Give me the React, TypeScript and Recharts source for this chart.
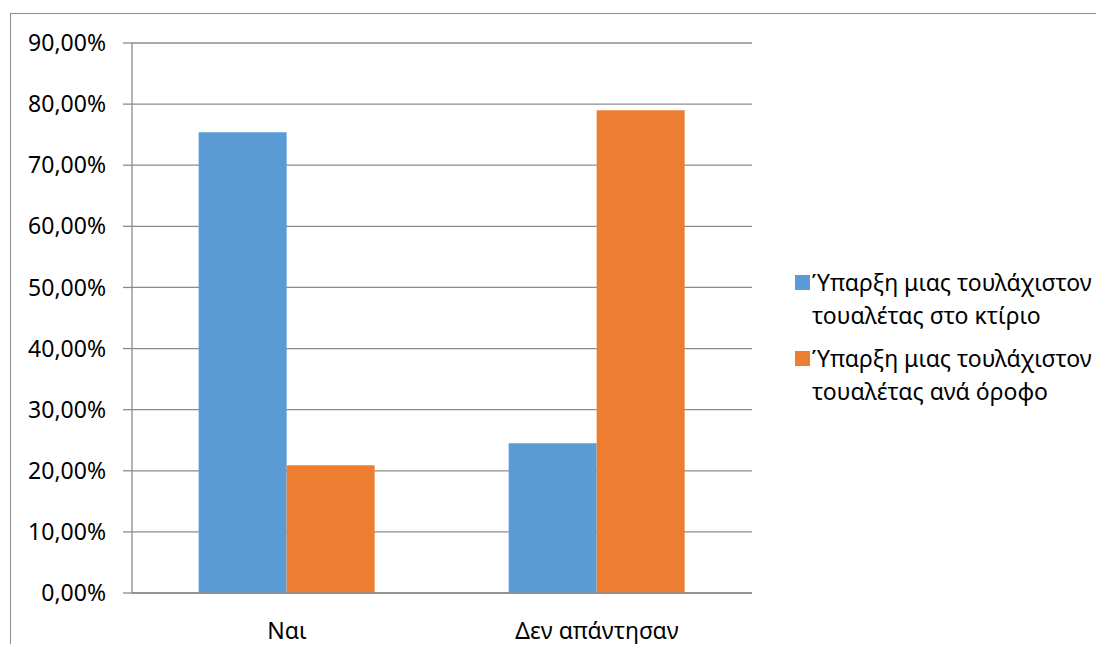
import { BarChart, Bar, XAxis, YAxis, CartesianGrid } from 'recharts';

const categories = ['Ναι', 'Δεν απάντησαν'];
const inBuilding = [75.4, 24.5];
const perFloor = [20.9, 79.0];
const yTicks = [0, 10, 20, 30, 40, 50, 60, 70, 80, 90];
const seriesNames = [
  ['Ύπαρξη μιας τουλάχιστον', 'τουαλέτας στο κτίριο'],
  ['Ύπαρξη μιας τουλάχιστον', 'τουαλέτας ανά όροφο'],
];
const colors = ['#5B9BD5', '#ED7D31'];

const data = categories.map((name, i) => ({
  name,
  idx: i + 0.5,
  inBuilding: inBuilding[i],
  perFloor: perFloor[i],
}));

const font = '"Noto Sans", sans-serif';

const LegendBox = () => (
  <div style={{ fontFamily: font, fontSize: 23, color: '#000', lineHeight: '33px' }}>
    {seriesNames.map((lines, i) => (
      <div key={i} style={{ position: 'relative', paddingLeft: 17, marginBottom: 10 }}>
        <span
          style={{
            position: 'absolute',
            left: 0,
            top: 9,
            width: 15,
            height: 15,
            background: colors[i],
          }}
        />
        <div style={{ whiteSpace: 'nowrap' }}>{lines[0]}</div>
        <div style={{ whiteSpace: 'nowrap' }}>{lines[1]}</div>
      </div>
    ))}
  </div>
);

const App = () => {
  return (
    <div style={{ position: 'relative', width: 1104, height: 652, overflow: 'hidden', background: '#fff', margin: -8 }}>
      <div
        style={{
          position: 'absolute',
          left: 10,
          top: 13,
          width: 1200,
          height: 800,
          borderLeft: '1.5px solid #8c8c8c',
          borderTop: '1.5px solid #8c8c8c',
        }}
      />
      <div style={{ position: 'absolute', left: 0, top: 0 }}>
        <BarChart
          width={1104}
          height={652}
          data={data}
          margin={{ top: 43, right: 352, left: 20, bottom: 0 }}
          barCategoryGap="21.5%"
          barGap={0}
        >
          <CartesianGrid vertical={false} stroke="#8c8c8c" strokeWidth={1.3} />
          {/* boundary ticks between categories, drawn on a hidden numeric axis */}
          <XAxis
            xAxisId="edges"
            dataKey="idx"
            type="number"
            domain={[0, 2]}
            ticks={[0, 1, 2]}
            interval={0}
            height={0}
            axisLine={false}
            tickSize={9}
            tickLine={{ stroke: '#8c8c8c', strokeWidth: 1.3 }}
            tickFormatter={() => ''}
          />
          <XAxis
            dataKey="name"
            height={59}
            axisLine={{ stroke: '#8c8c8c', strokeWidth: 1.3 }}
            tickLine={false}
            tickMargin={24}
            tick={{ fill: '#000', fontSize: 23, fontFamily: font }}
          />
          <YAxis
            width={112}
            domain={[0, 90]}
            ticks={yTicks}
            interval={0}
            axisLine={{ stroke: '#8c8c8c', strokeWidth: 1.3 }}
            tickSize={9}
            tickLine={{ stroke: '#8c8c8c', strokeWidth: 1.3 }}
            tickMargin={17}
            tickFormatter={(v: number) => `${v.toFixed(2).replace('.', ',')}%`}
            tick={{ fill: '#000', fontSize: 23, fontFamily: font }}
          />
          <Bar dataKey="inBuilding" name={seriesNames[0].join(' ')} fill={colors[0]} isAnimationActive={false} />
          <Bar dataKey="perFloor" name={seriesNames[1].join(' ')} fill={colors[1]} isAnimationActive={false} />
        </BarChart>
      </div>
      <div style={{ position: 'absolute', left: 795, top: 266 }}>
        <LegendBox />
      </div>
    </div>
  );
};

export default App;
